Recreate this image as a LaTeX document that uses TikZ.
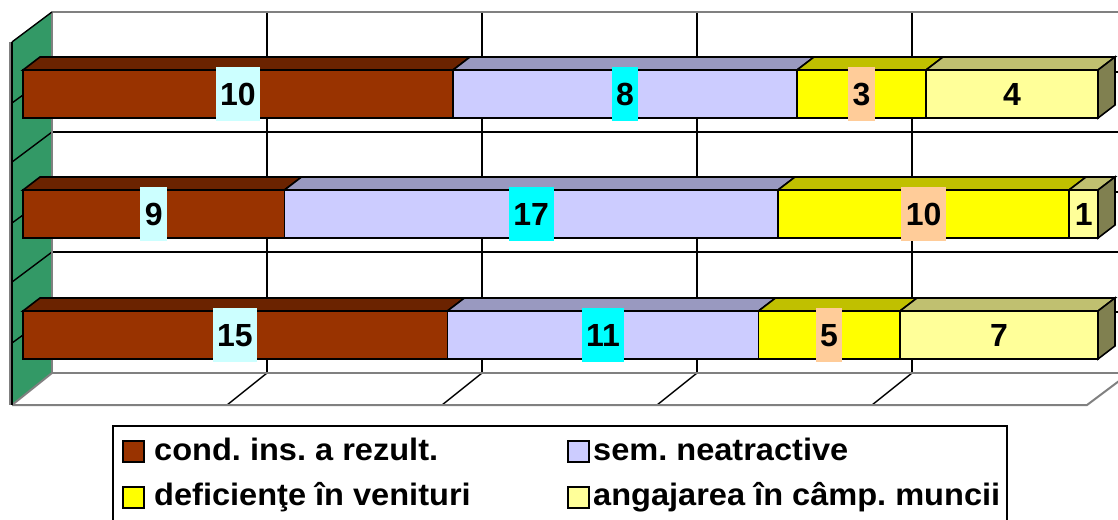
\documentclass[tikz,border=0pt]{standalone}
\usepackage{fontspec}
\setmainfont{Liberation Sans}
\newfontfamily\legfont[FakeStretch=1.05]{Liberation Sans}
\frenchspacing
\definecolor{brownF}{HTML}{993300}
\definecolor{brownT}{HTML}{6B2300}
\definecolor{lavF}{HTML}{CCCCFF}
\definecolor{lavT}{HTML}{9999C0}
\definecolor{yelF}{HTML}{FFFF00}
\definecolor{yelT}{HTML}{C0C000}
\definecolor{lyF}{HTML}{FFFF99}
\definecolor{lyT}{HTML}{C0C070}
\definecolor{lyS}{HTML}{808050}
\definecolor{wallG}{HTML}{339966}
\definecolor{gridG}{HTML}{808080}
\definecolor{lcyan}{HTML}{CCFFFF}
\definecolor{cyanL}{HTML}{00FFFF}
\definecolor{peach}{HTML}{FFCC99}
\newcommand{\barseg}[5]{%
  \draw[barline,fill=#5] ({#1},{#3}) -- ({#1+17},{#3-13}) -- ({#2+17},{#3-13}) -- ({#2},{#3}) -- cycle;
  \draw[barline,fill=#4] ({#1},{#3}) rectangle ({#2},{#3+48});}
\newcommand{\barend}[1]{%
  \draw[barline,fill=lyS] (1098,{#1}) -- (1115,{#1-13}) -- (1115,{#1+35}) -- (1098,{#1+48}) -- cycle;}
\tikzset{
  barline/.style={draw=black,line width=1.6pt,line join=miter},
  gridblack/.style={draw=black,line width=1.4pt},
  gridgray/.style={draw=gridG,line width=2pt},
  lbl/.style={font=\fontsize{32}{36}\selectfont\bfseries,inner xsep=4.5pt,inner ysep=0pt,
    minimum height=54pt,text height=23pt,text depth=0pt},
  legtxt/.style={font=\legfont\fontsize{31}{36}\selectfont\bfseries,anchor=base west,inner sep=0pt},
  legsq/.style={draw=black,line width=1.6pt}
}
\begin{document}
\begin{tikzpicture}[x=1pt,y=-1pt]
\useasboundingbox (0,0) rectangle (1118,519);
\clip (0,0) rectangle (1118,519);
% side wall
\fill[wallG] (12,42) -- (52,12) -- (52,373) -- (12,405) -- cycle;
% back wall grid
\foreach \yy in {132,252} {
  \draw[gridblack] (52,\yy) -- (1118,\yy);
  \draw[gridblack] (12,{\yy+30}) -- (52,\yy);
}
\foreach \xx in {267,482,697,912} {
  \draw[gridblack] (\xx,12) -- (\xx,373);
  \draw[gridblack] (\xx,373) -- ({\xx-40},405);
}
\draw[gridgray] (52,12) -- (1118,12);
\draw[gridgray] (52,12) -- (52,373);
\draw[gridgray] (52,373) -- (1118,373);
\draw[gridgray] (12,405) -- (1087,405) -- (1127,375);
\draw[gridgray] (12,405) -- (52,373);
\draw[gridgray] (10,42) -- (10,405);
\draw[gridblack] (12,42) -- (52,12);
\draw[gridblack] (12,42) -- (12,405);
\foreach \yy in {103,223,343} {
  \draw[gridblack] (12,\yy) -- (23,{\yy-8});
}
\foreach \yy in {72,192,312} {
  \draw[gridblack] (1114,\yy) -- (1118,\yy);
}
% bar 1 (10,8,3,4)
\barseg{23}{453}{70}{brownF}{brownT}
\barseg{453}{797}{70}{lavF}{lavT}
\barseg{797}{926}{70}{yelF}{yelT}
\barseg{926}{1098}{70}{lyF}{lyT}
\barend{70}
% bar 2 (9,17,10,1)
\barseg{23}{284.5}{190}{brownF}{brownT}
\barseg{284.5}{778}{190}{lavF}{lavT}
\barseg{778}{1069}{190}{yelF}{yelT}
\barseg{1069}{1098}{190}{lyF}{lyT}
\barend{190}
% bar 3 (15,11,5,7)
\barseg{23}{447.4}{311}{brownF}{brownT}
\barseg{447.4}{758.5}{311}{lavF}{lavT}
\barseg{758.5}{900}{311}{yelF}{yelT}
\barseg{900}{1098}{311}{lyF}{lyT}
\barend{311}
% labels
\node[lbl,fill=lcyan] (a1) at (238,94) {10};
\node[lbl,fill=cyanL] (b1) at (625,94) {8};
\node[lbl,fill=peach] (c1) at (861.5,94) {3};
\node[lbl] (d1) at (1012,94) {4};
\node[lbl,fill=lcyan] (a2) at (153.7,214) {9};
\node[lbl,fill=cyanL] (b2) at (531.2,214) {17};
\node[lbl,fill=peach] (c2) at (923.7,214) {10};
\node[lbl] (d2) at (1083.8,214) {1};
\node[lbl,fill=lcyan] (a3) at (235,335) {15};
\node[lbl,fill=cyanL] (b3) at (603,335) {11};
\node[lbl,fill=peach] (c3) at (829,335) {5};
\node[lbl] (d3) at (999,335) {7};
% legend
\draw[draw=black,line width=2pt,fill=white] (113,426) rectangle (1007,540);
\draw[legsq,fill=brownF] (123,441) rectangle (144,462);
\node[legtxt] (l1) at (154,460) {cond. ins. a rezult.};
\draw[legsq,fill=lavF] (568,441) rectangle (589,462);
\node[legtxt] (l2) at (593,460) {sem. neatractive};
\draw[legsq,fill=yelF] (123,487) rectangle (144,508);
\node[legtxt] (l3) at (154,505) {deficienţe în venituri};
\draw[legsq,fill=lyF] (568,487) rectangle (589,508);
\node[legtxt] (l4) at (593,505) {angajarea în câmp. muncii};
\end{tikzpicture}
\end{document}
